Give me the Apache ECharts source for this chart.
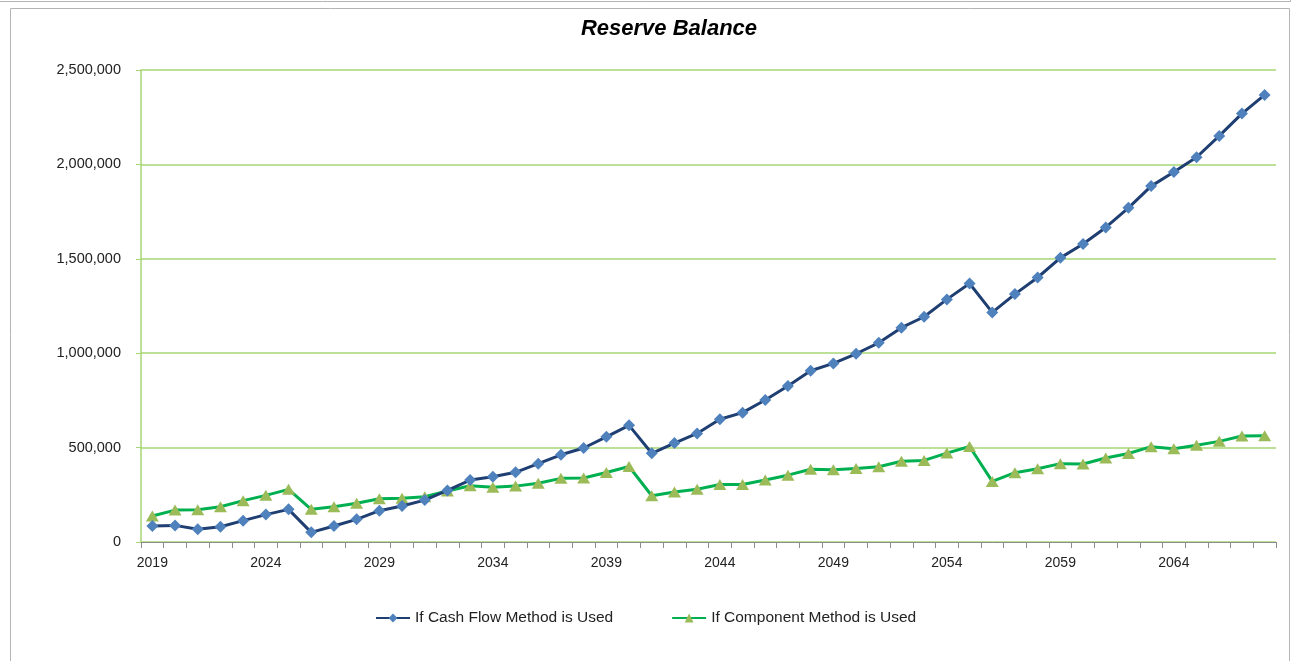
<!DOCTYPE html>
<html>
<head>
<meta charset="utf-8">
<title>Reserve Balance</title>
<script src="https://cdn.jsdelivr.net/npm/echarts@6/dist/echarts.min.js"></script>
<style>
  html, body { margin: 0; padding: 0; background: #fff; }
  #chart { width: 1299px; height: 661px; }
</style>
</head>
<body>
<div id="chart"></div>
<script>
// years on the x axis
var years = ['2019','2020','2021','2022','2023','2024','2025','2026','2027','2028',
  '2029','2030','2031','2032','2033','2034','2035','2036','2037','2038',
  '2039','2040','2041','2042','2043','2044','2045','2046','2047','2048',
  '2049','2050','2051','2052','2053','2054','2055','2056','2057','2058',
  '2059','2060','2061','2062','2063','2064','2065','2066','2067','2068'];

// If Cash Flow Method is Used
var cashFlow = [85000, 88000, 67000, 81000, 113000, 145000, 173000, 51000, 85000, 120000,
  166000, 191000, 222000, 273000, 328000, 346000, 369000, 415000, 462000, 498000,
  557000, 618000, 470000, 524000, 575000, 650000, 685000, 752000, 826000, 907000,
  946000, 997000, 1055000, 1135000, 1193000, 1285000, 1369000, 1216000, 1313000, 1401000,
  1505000, 1578000, 1666000, 1770000, 1885000, 1960000, 2038000, 2151000, 2269000, 2368000];

// If Component Method is Used
var component = [138000, 169000, 171000, 187000, 219000, 247000, 279000, 173000, 187000, 205000,
  229000, 232000, 240000, 270000, 298000, 290000, 296000, 311000, 337000, 339000,
  368000, 400000, 245000, 265000, 279000, 305000, 305000, 328000, 354000, 385000,
  383000, 389000, 399000, 428000, 432000, 471000, 506000, 321000, 367000, 388000,
  415000, 413000, 445000, 469000, 505000, 494000, 512000, 533000, 561000, 563000];

// y axis ticks
var yMin = 0;
var yMax = 2500000;
var yStep = 500000;

var gridGreen = '#a6d673';

var myChart = echarts.init(document.getElementById('chart'));
myChart.setOption({
  animation: false,
  title: {
    text: 'Reserve Balance',
    left: 664,
    textAlign: 'center',
    top: 13,
    textStyle: {
      fontFamily: '"Liberation Sans Narrow", "Liberation Sans", Arial, sans-serif',
      fontSize: 22,
      fontWeight: 'bold',
      fontStyle: 'italic',
      color: '#000'
    }
  },
  graphic: [
    {
      type: 'rect',
      shape: { x: 10.5, y: 8.5, width: 1279, height: 700 },
      style: { fill: 'none', stroke: '#b4b4b4', lineWidth: 1 },
      silent: true
    },
    {
      type: 'polyline',
      shape: { points: [[0, 1.5], [1290.5, 1.5], [1290.5, -5]] },
      style: { fill: 'none', stroke: '#b4b4b4', lineWidth: 1 },
      silent: true
    }
  ],
  legend: {
    top: 605,
    left: 370,
    itemWidth: 34,
    itemHeight: 11,
    itemGap: 58,
    textStyle: {
      fontFamily: '"Liberation Sans", Arial, sans-serif',
      fontSize: 15.5,
      color: '#222'
    },
    data: ['If Cash Flow Method is Used', 'If Component Method is Used']
  },
  grid: {
    left: 141,
    right: 23,
    top: 70,
    bottom: 119,
    containLabel: false
  },
  xAxis: {
    type: 'category',
    data: years,
    boundaryGap: true,
    axisLine: { lineStyle: { color: '#8c8c8c', width: 1 } },
    axisTick: { show: true, interval: 0, length: 6, lineStyle: { color: '#8c8c8c' } },
    axisLabel: {
      interval: 4,
      margin: 14,
      fontFamily: '"Liberation Sans", Arial, sans-serif',
      fontSize: 14,
      color: '#222'
    },
    splitLine: { show: false }
  },
  yAxis: {
    type: 'value',
    min: yMin,
    max: yMax,
    interval: yStep,
    axisLine: { show: true, lineStyle: { color: gridGreen, width: 1.5 } },
    axisTick: { show: true, length: 5, lineStyle: { color: gridGreen } },
    axisLabel: {
      margin: 20,
      fontFamily: '"Liberation Sans", Arial, sans-serif',
      fontSize: 14.5,
      color: '#222',
      formatter: function (v) { return v.toLocaleString('en-US'); }
    },
    splitLine: { show: true, lineStyle: { color: gridGreen, width: 1.5 } }
  },
  series: [
    {
      name: 'If Cash Flow Method is Used',
      type: 'line',
      data: cashFlow,
      symbol: 'diamond',
      symbolSize: 12,
      showAllSymbol: true,
      lineStyle: { color: '#1f3f73', width: 3 },
      itemStyle: { color: '#4f81bd', borderWidth: 0 },
      z: 3
    },
    {
      name: 'If Component Method is Used',
      type: 'line',
      data: component,
      symbol: 'triangle',
      symbolSize: [13, 11],
      showAllSymbol: true,
      lineStyle: { color: '#00b050', width: 3 },
      itemStyle: { color: '#9bbb59', borderWidth: 0 },
      z: 2
    }
  ]
});
</script>
</body>
</html>
